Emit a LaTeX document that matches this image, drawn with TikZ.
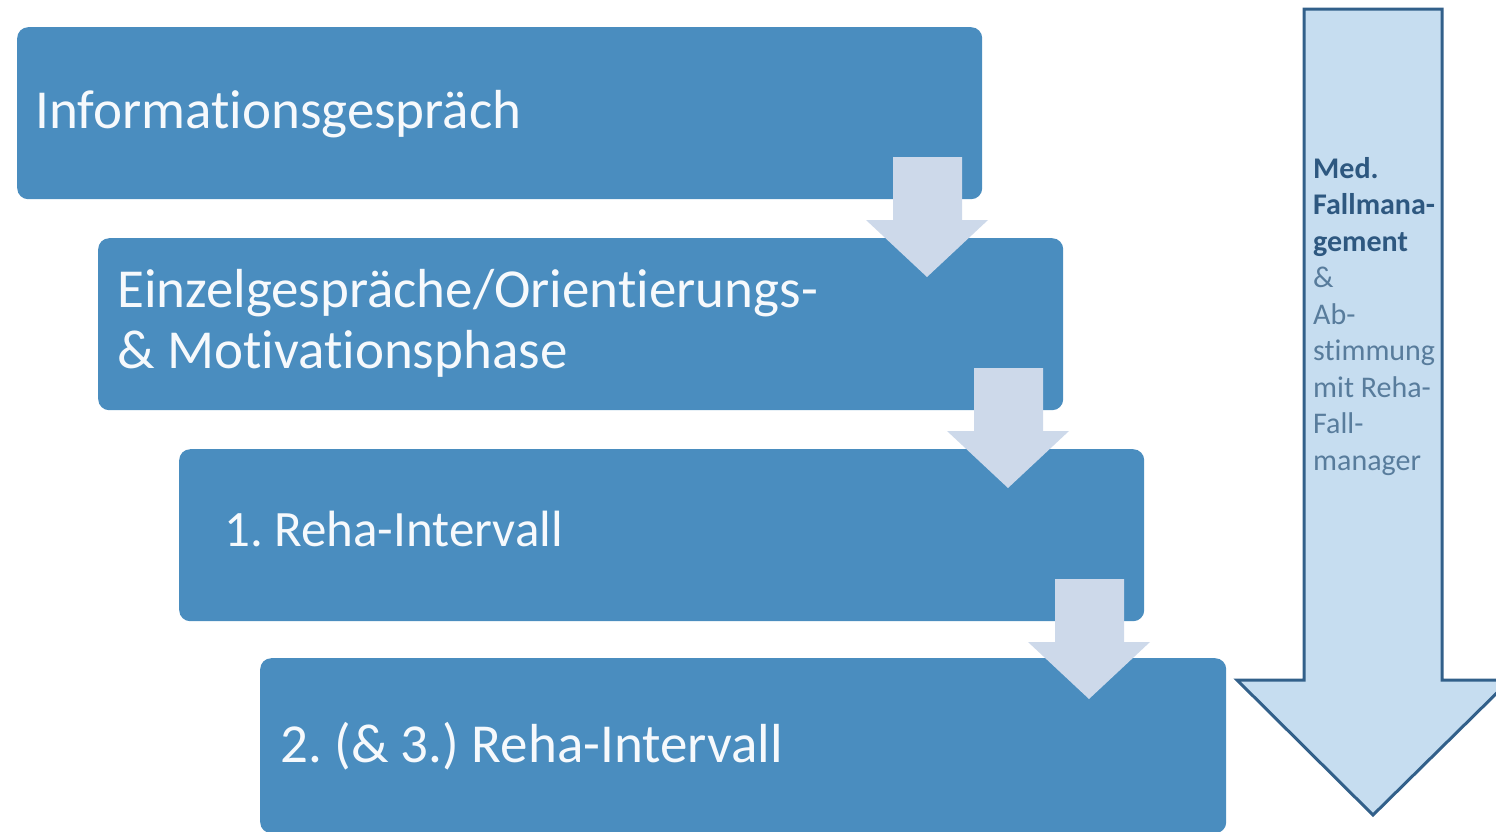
\documentclass[tikz,border=0pt]{standalone}
\usepackage{fontspec}
\setmainfont[Ligatures=NoCommon]{Carlito}
\frenchspacing
\definecolor{boxblue}{RGB}{74,141,191}
\definecolor{arrowlight}{RGB}{205,217,234}
\definecolor{bigfill}{RGB}{198,221,240}
\definecolor{bigdraw}{RGB}{50,96,138}
\definecolor{txtdark}{RGB}{46,88,128}
\definecolor{txtlight}{RGB}{88,124,156}
\definecolor{txtwhite}{RGB}{246,249,252}
\begin{document}
\frenchspacing
\begin{tikzpicture}[x=1pt,y=-1pt,
  box/.style={fill=boxblue, draw=none, rounded corners=11pt, anchor=north west, inner sep=0pt},
  boxtext/.style={anchor=base west, inner sep=0pt, text=txtwhite, font=\frenchspacing\fontsize{55}{61}\selectfont},
  blockarrow/.style={fill=arrowlight, draw=none},
  sidetext/.style={anchor=north west, inner sep=0pt, align=left, font=\fontsize{30}{36.5}\selectfont}
]
\useasboundingbox (0,0) rectangle (1496,831);
\clip (0,0) rectangle (1496,831);
% big side arrow
\draw[fill=bigfill, draw=bigdraw, line width=3pt, line join=miter]
  (1304,9) -- (1442,9) -- (1442,680) -- (1510,680) -- (1373,815) -- (1237,680) -- (1304,680) -- cycle;
\node[sidetext] (side) at (1313,157) {\textcolor{txtdark}{\bfseries Med.}\\
\textcolor{txtdark}{\bfseries Fallmana-}\\
\textcolor{txtdark}{\bfseries gement}\\
\textcolor{txtlight}{\&}\\
\textcolor{txtlight}{Ab-}\\
\textcolor{txtlight}{stimmung}\\
\textcolor{txtlight}{mit Reha-}\\
\textcolor{txtlight}{Fall-}\\
\textcolor{txtlight}{manager}};
% boxes
\node[box, minimum width=965pt, minimum height=172pt] (b1) at (17,27) {};
\node[box, minimum width=965pt, minimum height=172pt] (b2) at (98,238) {};
\node[box, minimum width=965pt, minimum height=172pt] (b3) at (179,449) {};
\node[box, minimum width=966pt, minimum height=175pt] (b4) at (260,658) {};
\node[boxtext] (t1) at (35,128) {Informationsgespräch};
\node[boxtext] (t2) at (117,307) {Einzelgespräche/Orientierungs-};
\node[boxtext] (t2b) at (117,368) {\& Motivationsphase};
\node[boxtext, font=\frenchspacing\fontsize{51}{56}\selectfont] (t3) at (224,546) {1. Reha-Intervall};
\node[boxtext] (t4) at (280,762) {2. (\& 3.) Reha-Intervall};
% small block arrows
\foreach \dx/\dy in {0/0, 81/211, 162/422} {
  \fill[blockarrow] (893+\dx,157+\dy) -- (962+\dx,157+\dy) -- (962+\dx,220+\dy) -- (988+\dx,220+\dy)
    -- (927+\dx,277+\dy) -- (866+\dx,220+\dy) -- (893+\dx,220+\dy) -- cycle;
}
\end{tikzpicture}
\end{document}
